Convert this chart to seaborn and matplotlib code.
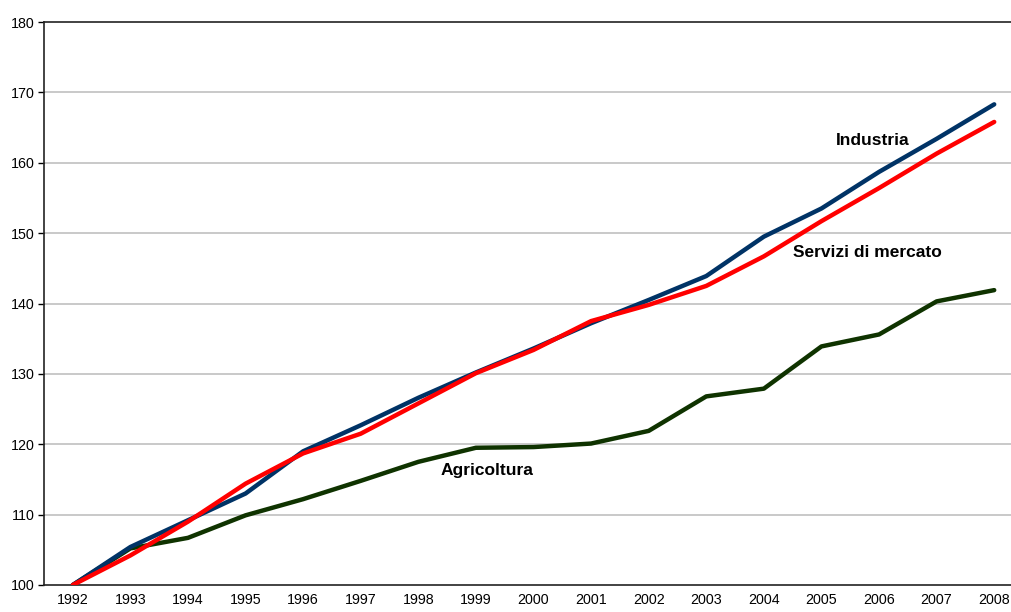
import pandas as pd
import matplotlib
matplotlib.use("Agg")
import matplotlib.pyplot as plt
import seaborn as sns

# years on the x axis
anni = ["1992", "1993", "1994", "1995", "1996", "1997", "1998", "1999", "2000",
        "2001", "2002", "2003", "2004", "2005", "2006", "2007", "2008"]

# index values (1992 = 100)
industria = [100, 105.4, 109.2, 113.0, 119.0, 122.7, 126.6, 130.2, 133.6,
             137.2, 140.5, 143.9, 149.5, 153.5, 158.7, 163.4, 168.3]
servizi = [100, 104.2, 109.0, 114.4, 118.7, 121.5, 125.8, 130.1, 133.4,
           137.5, 139.8, 142.5, 146.7, 151.7, 156.4, 161.3, 165.8]
agricoltura = [100, 105.2, 106.7, 109.9, 112.2, 114.8, 117.5, 119.5, 119.6,
               120.1, 121.9, 126.8, 127.9, 133.9, 135.6, 140.3, 141.9]

serie = ["Industria", "Servizi di mercato", "Agricoltura"]
colori = {"Industria": "#003366", "Servizi di mercato": "#ff0000", "Agricoltura": "#0f3300"}

# long table for seaborn
df = pd.DataFrame({"pos": list(range(len(anni))) * 3,
                   "valore": industria + servizi + agricoltura,
                   "serie": [s for s in serie for _ in anni]})

sns.set_style("white")
plt.rcParams["font.family"] = ["Liberation Sans", "DejaVu Sans"]
plt.rcParams["text.color"] = "black"

fig = plt.figure(figsize=(10.11, 6.12), dpi=100)
ax = fig.add_axes([44 / 1011, 27 / 612, 979 / 1011, 563 / 612])

# gridlines first so lines sit on top
for v in range(110, 180, 10):
    ax.axhline(v, color="#c0c0c0", lw=1.2, zorder=0)

# red drawn last, so it sits over the blue where they cross
sns.lineplot(data=df, x="pos", y="valore", hue="serie",
             hue_order=["Agricoltura", "Industria", "Servizi di mercato"],
             palette=colori, lw=3.2, ax=ax, legend=False, zorder=3)

ax.set_xlim(-0.5, len(anni) - 0.5)
ax.set_ylim(100, 180)
ax.set_yticks(range(100, 181, 10))
ax.set_xticks(range(len(anni)))
ax.set_xticklabels(anni)
ax.set_xticks([i - 0.5 for i in range(len(anni) + 1)], minor=True)
ax.tick_params(axis="x", which="major", length=0, pad=6, labelsize=10.3, labelcolor="black")
ax.tick_params(axis="x", which="minor", length=4, width=1, color="black", direction="out")
ax.tick_params(axis="y", length=4, width=1, color="black", direction="out", pad=3,
               labelsize=10.3, labelcolor="black", left=True)
ax.set_xlabel("")
ax.set_ylabel("")

for lato in ["left", "bottom", "top"]:
    ax.spines[lato].set_color("#222222")
    ax.spines[lato].set_linewidth(1.2)
ax.spines["right"].set_visible(False)

# series names written next to the lines
etichetta = dict(fontsize=12.5, fontweight="bold", ha="center", va="center", color="black")
ax.text(13.89, 163.2, "Industria", **etichetta)
ax.text(13.79, 147.3, "Servizi di mercato", **etichetta)
ax.text(7.19, 116.2, "Agricoltura", **etichetta)

plt.savefig("out.png", dpi=100)
